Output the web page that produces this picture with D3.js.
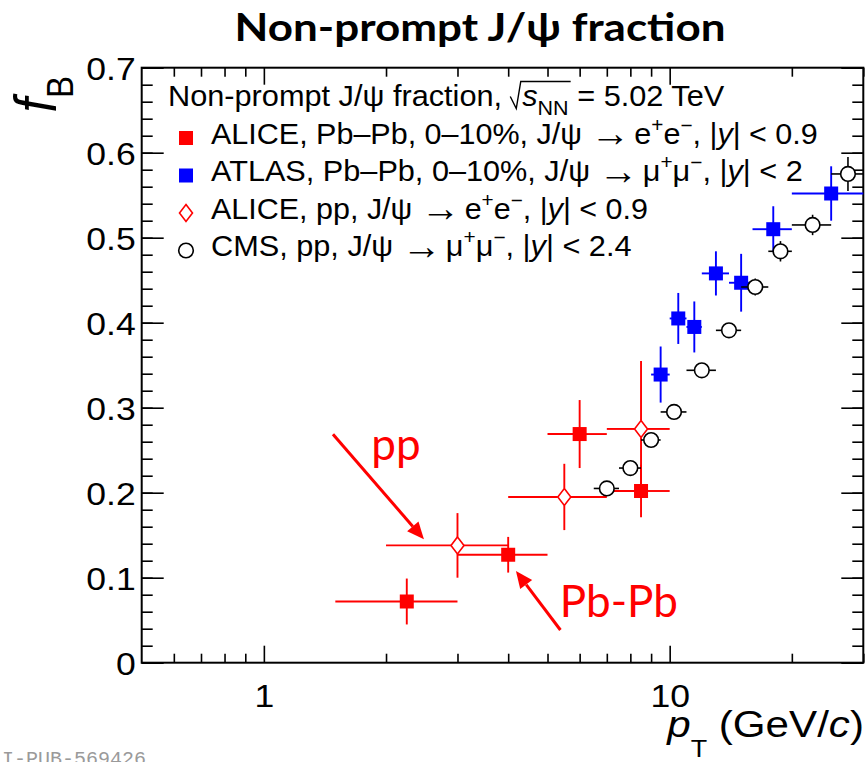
<!DOCTYPE html>
<html>
<head>
<meta charset="utf-8">
<script src="https://cdn.jsdelivr.net/npm/d3@7"></script>
<style>
  body { margin: 0; background: #fff; }
  svg { display: block; }
</style>
</head>
<body>
<div id="app"></div>
<script>
// ---- data ----
// ALICE Pb-Pb 0-10%
const aliceAAx = [2.25, 4.0, 6.0, 8.5];
const aliceAAlo = [1.5, 3, 5, 7];
const aliceAAhi = [3, 5, 7, 10];
const aliceAAy = [0.072, 0.127, 0.269, 0.202];
const aliceAAerr = [0.027, 0.021, 0.040, 0.031];

// ATLAS Pb-Pb 0-10%
const atlasX = [9.5, 10.5, 11.5, 13, 15, 18, 25];
const atlasLo = [9, 10, 11, 12, 14, 16, 20];
const atlasHi = [10, 11, 12, 14, 16, 20, 30];
const atlasY = [0.339, 0.405, 0.395, 0.458, 0.447, 0.510, 0.552];
const atlasErr = [0.033, 0.030, 0.030, 0.026, 0.034, 0.027, 0.032];

// ALICE pp
const alicePPx = [3.0, 5.5, 8.5];
const alicePPlo = [2, 4, 7];
const alicePPhi = [4, 7, 10];
const alicePPy = [0.138, 0.195, 0.275];
const alicePPerr = [0.038, 0.039, 0.080];

// CMS pp
const cmsX = [7, 8, 9, 10.25, 12, 14, 16.25, 18.75, 22.5, 27.5];
const cmsLo = [6.5, 7.5, 8.5, 9.5, 11, 13, 15, 17.5, 20, 25];
const cmsHi = [7.5, 8.5, 9.5, 11, 13, 15, 17.5, 20, 25, 30];
const cmsY = [0.205, 0.229, 0.262, 0.295, 0.344, 0.391, 0.442, 0.484, 0.515, 0.575];
const cmsErr = [0.006, 0.006, 0.006, 0.008, 0.008, 0.008, 0.010, 0.012, 0.012, 0.020];

// axis ticks
const xMajor = [1, 10];
const xMinor = [0.6, 0.7, 0.8, 0.9, 2, 3, 4, 5, 6, 7, 8, 9, 20, 30];

// annotations (data coordinates)
const annotations = [
  { label: 'pp', tx: 1.84, ty: 0.2385, from: [1.48, 0.2687], to: [2.48, 0.1452] },
  { label: 'Pb-Pb', tx: 5.36, ty: 0.054, from: [5.38, 0.0385], to: [4.18, 0.1079] }
];

// legend text pieces: [text, style]
const legendHeader = [['Non-prompt J/\u03c8 fraction, '], ['s', 'i'], ['NN', 'sub'], [' = 5.02 TeV']];
const legendRows = [
  [['ALICE, Pb\u2013Pb, 0\u201310%, J/\u03c8 '], ['\u2192', 'arrow'], ['e', 'after'], ['+', 'sup'], ['e'], ['\u2212', 'sup'], [', |'], ['y', 'i'], ['| < 0.9']],
  [['ATLAS, Pb\u2013Pb, 0\u201310%, J/\u03c8 '], ['\u2192', 'arrow'], ['\u03bc', 'after'], ['+', 'sup'], ['\u03bc'], ['\u2212', 'sup'], [', |'], ['y', 'i'], ['| < 2']],
  [['ALICE, pp, J/\u03c8 '], ['\u2192', 'arrow'], ['e', 'after'], ['+', 'sup'], ['e'], ['\u2212', 'sup'], [', |'], ['y', 'i'], ['| < 0.9']],
  [['CMS, pp, J/\u03c8 '], ['\u2192', 'arrow'], ['\u03bc', 'after'], ['+', 'sup'], ['\u03bc'], ['\u2212', 'sup'], [', |'], ['y', 'i'], ['| < 2.4']]
];

// ---- setup ----
const W = 867, H = 762;
const SX = 1.13;                       // horizontal stretch of the ROOT text
const helv = "'Liberation Sans', Arial, Helvetica, sans-serif";
const cal = "Lato, 'Open Sans', sans-serif";

const svg = d3.select('#app').append('svg')
  .attr('width', W).attr('height', H)
  .style('background', '#fff');

const x = d3.scaleLog().domain([0.5, 30]).range([141.7, 863.3]);
const y = d3.scaleLinear().domain([0, 0.7]).range([662.7, 67.7]);

// ---- rich text helper (sup / sub / italic / big arrow) ----
function rich(parent, segs, fs, attrs) {
  const t = parent.append('text')
    .attr('font-family', helv)
    .attr('font-size', fs)
    .attr('fill', '#000');
  Object.entries(attrs || {}).forEach(([k, v]) => t.attr(k, v));
  let shift = 0;
  segs.forEach(([txt, st, extra]) => {
    let target = 0, size = fs, dx = 0;
    if (st === 'sup') { target = -0.42 * fs; size = 0.68 * fs; }
    if (st === 'sub') { target = (extra && extra.shift) || 0.28 * fs; size = (extra && extra.size) || 0.7 * fs; }
    if (st === 'arrow') { target = 0.08 * fs; size = 1.3 * fs; }
    if (st === 'after') { dx = 0.14 * fs; }
    const ts = t.append('tspan').text(txt).attr('font-size', size);
    if (target !== shift) ts.attr('dy', target - shift);
    if (st === 'i') ts.attr('font-style', 'italic');
    if (extra && extra.dx) dx = extra.dx;
    if (dx) ts.attr('dx', dx);
    shift = target;
  });
  return t;
}

// stretch a text horizontally around its anchor to a given width
function fit(g, t, ax, width) {
  const w = t.node().getBBox().width;
  const s = width / w;
  g.attr('transform', `translate(${ax},0) scale(${s},1) translate(${-ax},0)`);
  return s;
}

// ---- axes ----
const tickW = 1.6;
function styleAxis(g) {
  g.select('.domain').remove();
  g.selectAll('line').attr('stroke', '#000').attr('stroke-width', tickW);
}

svg.append('g').attr('transform', `translate(0,${y(0)})`)
  .call(d3.axisBottom(x).tickValues(xMajor).tickSize(-17).tickPadding(22).tickFormat(d3.format('d')))
  .call(styleAxis)
  .call(g => g.selectAll('text')
    .attr('font-family', helv).attr('font-size', 31.5).attr('fill', '#000')
    .attr('transform', `scale(${SX},1)`));
svg.append('g').attr('transform', `translate(0,${y(0)})`)
  .call(d3.axisBottom(x).tickValues(xMinor).tickSize(-9).tickFormat(''))
  .call(styleAxis);
svg.append('g').attr('transform', `translate(0,${y(0.7)})`)
  .call(d3.axisTop(x).tickValues(xMajor).tickSize(-17).tickFormat(''))
  .call(styleAxis);
svg.append('g').attr('transform', `translate(0,${y(0.7)})`)
  .call(d3.axisTop(x).tickValues(xMinor).tickSize(-9).tickFormat(''))
  .call(styleAxis);

const yFmt = d => (d === 0 ? '0' : d3.format('.1f')(d));
svg.append('g').attr('transform', `translate(${x(0.5)},0)`)
  .call(d3.axisLeft(y).ticks(7).tickSize(-22).tickPadding(6).tickFormat(yFmt))
  .call(styleAxis)
  .call(g => g.selectAll('text')
    .attr('font-family', helv).attr('font-size', 31.5).attr('fill', '#000')
    .attr('x', 0).attr('dy', '0.36em')
    .attr('transform', `translate(-6,0) scale(${SX},1)`));
svg.append('g').attr('transform', `translate(${x(0.5)},0)`)
  .call(d3.axisLeft(y).ticks(35).tickSize(-11).tickFormat(''))
  .call(styleAxis);
svg.append('g').attr('transform', `translate(${x(30)},0)`)
  .call(d3.axisRight(y).ticks(7).tickSize(-22).tickFormat(''))
  .call(styleAxis);
svg.append('g').attr('transform', `translate(${x(30)},0)`)
  .call(d3.axisRight(y).ticks(35).tickSize(-11).tickFormat(''))
  .call(styleAxis);

// frame
svg.append('rect')
  .attr('x', x(0.5)).attr('y', y(0.7))
  .attr('width', x(30) - x(0.5)).attr('height', y(0) - y(0.7))
  .attr('fill', 'none').attr('stroke', '#000').attr('stroke-width', 2);

// ---- data series ----
const markers = {
  square: { hw: 0, hh: 0 },
  diamond: { hw: 6.5, hh: 8.5 },
  circle: { hw: 7.3, hh: 7.3 }
};

function drawMarker(g, type, cx, cy, color) {
  if (type === 'square') {
    g.append('rect').attr('x', cx - 7).attr('y', cy - 7).attr('width', 14).attr('height', 14).attr('fill', color);
  } else if (type === 'diamond') {
    g.append('path')
      .attr('d', `M${cx},${cy - 8.5}L${cx + 6.5},${cy}L${cx},${cy + 8.5}L${cx - 6.5},${cy}Z`)
      .attr('fill', 'none').attr('stroke', color).attr('stroke-width', 1.6);
  } else {
    g.append('circle').attr('cx', cx).attr('cy', cy).attr('r', 7.3)
      .attr('fill', '#fff').attr('stroke', color).attr('stroke-width', 1.6);
  }
}

function drawSeries(px, lo, hi, py, err, color, type, lw) {
  const g = svg.append('g');
  const m = markers[type];
  px.forEach((v, i) => {
    const cx = x(v), cy = y(py[i]);
    const segs = [
      [x(lo[i]), cy, cx - m.hw, cy],
      [cx + m.hw, cy, Math.min(x(hi[i]), x(30)), cy],
      [cx, y(py[i] + err[i]), cx, cy - m.hh],
      [cx, cy + m.hh, cx, y(py[i] - err[i])]
    ];
    segs.forEach(([x1, y1, x2, y2]) => {
      if (Math.hypot(x2 - x1, y2 - y1) < 0.5) return;
      if ((x2 - x1) < 0 || (y2 - y1) < 0) return;
      g.append('line').attr('x1', x1).attr('y1', y1).attr('x2', x2).attr('y2', y2)
        .attr('stroke', color).attr('stroke-width', lw);
    });
    drawMarker(g, type, cx, cy, color);
  });
}

drawSeries(aliceAAx, aliceAAlo, aliceAAhi, aliceAAy, aliceAAerr, '#ff0000', 'square', 1.9);
drawSeries(atlasX, atlasLo, atlasHi, atlasY, atlasErr, '#0000ff', 'square', 1.9);
drawSeries(alicePPx, alicePPlo, alicePPhi, alicePPy, alicePPerr, '#ff0000', 'diamond', 1.9);
drawSeries(cmsX, cmsLo, cmsHi, cmsY, cmsErr, '#000', 'circle', 1.6);

// ---- annotations ----
annotations.forEach(a => {
  const x1 = x(a.from[0]), y1 = y(a.from[1]), x2 = x(a.to[0]), y2 = y(a.to[1]);
  const ang = Math.atan2(y2 - y1, x2 - x1);
  const L = 17, hw = 7.5;
  const bx = x2 - L * Math.cos(ang), by = y2 - L * Math.sin(ang);
  svg.append('line').attr('x1', x1).attr('y1', y1).attr('x2', bx).attr('y2', by)
    .attr('stroke', '#ff0000').attr('stroke-width', 3);
  svg.append('path')
    .attr('d', `M${x2},${y2}L${bx + hw * Math.sin(ang)},${by - hw * Math.cos(ang)}L${bx - hw * Math.sin(ang)},${by + hw * Math.cos(ang)}Z`)
    .attr('fill', '#ff0000');
  svg.append('text').attr('x', x(a.tx)).attr('y', y(a.ty))
    .attr('font-family', cal).attr('font-size', 44).attr('fill', '#ff0000')
    .text(a.label);
});

// ---- legend ----
const legX = 211, markX = 186;
const rowY = [138, 175.5, 213, 250.5];
const rowEnd = [818, 803, 648, 631.7];
const rowType = ['square', 'square', 'diamond', 'circle'];
const rowColor = ['#ff0000', '#0000ff', '#ff0000', '#000'];

{
  const g = svg.append('g');
  const segs = legendHeader.map(s => s.slice());
  segs[1] = ['s', 'i', { dx: 11 }];
  const t = rich(g, segs, 29, { x: 168, y: 106.5 });
  const s = fit(g, t, 168, 725 - 168);
  const n = t.node();
  const iS = legendHeader[0][0].length;
  const iN = iS + 2;
  const sx0 = 168 + (n.getStartPositionOfChar(iS).x - 168) * s;
  const nx1 = 168 + (n.getEndPositionOfChar(iN).x - 168) * s;
  const B = 106.5;
  svg.append('path')
    .attr('d', `M${sx0 - 12},${B - 10}L${sx0 - 6},${B + 2}L${sx0 - 1.5},${B - 25}L${nx1 + 2},${B - 25}`)
    .attr('fill', 'none').attr('stroke', '#000').attr('stroke-width', 1.4);
}

legendRows.forEach((segs, i) => {
  drawMarker(svg, rowType[i], markX, rowY[i], rowColor[i]);
  const g = svg.append('g');
  const t = rich(g, segs, 29, { x: legX, y: rowY[i] + 6 });
  fit(g, t, legX, rowEnd[i] - legX);
});

// ---- axis titles ----
{
  const g = svg.append('g');
  const t = rich(g, [['p', 'i'], ['T', 'sub', { shift: 20, size: 23 }], [' (GeV/', null], ['c', 'i'], [')']], 36,
    { x: 864, y: 737, 'text-anchor': 'end' });
  fit(g, t, 864, 864 - 666);
}
{
  const g = svg.append('g').attr('transform', `translate(56,76) scale(${SX},1) rotate(-90)`);
  rich(g, [['f', 'i'], ['B', 'sub', { shift: 15, size: 33 }]], 52, { x: 0, y: 0, 'text-anchor': 'end' });
}

// ---- title ----
{
  const g = svg.append('g');
  const t = g.append('text').attr('x', 480).attr('y', 41.4)
    .attr('text-anchor', 'middle')
    .attr('font-family', cal).attr('font-weight', 'bold').attr('font-size', 37.5)
    .text('Non-prompt J/\u03c8 fraction');
  fit(g, t, 480, 491);
}

// ---- figure id (cut at the page edge, as in the original) ----
svg.append('text').attr('x', -22).attr('y', 765)
  .attr('font-family', "'Liberation Mono', 'DejaVu Sans Mono', monospace")
  .attr('font-size', 20).attr('fill', '#9a9a9a')
  .text('ALI-PUB-569426');
</script>
</body>
</html>
